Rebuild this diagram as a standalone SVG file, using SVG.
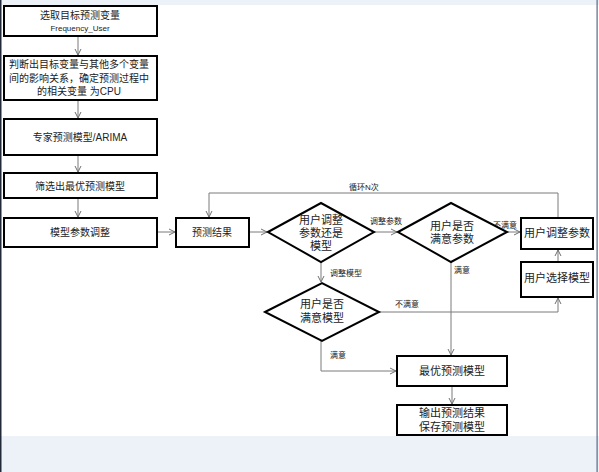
<svg xmlns="http://www.w3.org/2000/svg" width="599" height="472" viewBox="0 0 599 472">
<defs>
<marker id="arr" markerWidth="8" markerHeight="8" refX="7" refY="4" orient="auto" markerUnits="userSpaceOnUse">
<path d="M1,1 L7,4 L1,7" fill="none" stroke="#6f6f6f" stroke-width="1"/>
</marker>
<style>
.box{fill:#fff;stroke:#000;stroke-width:2}
.dia{fill:#fff;stroke:#000;stroke-width:2}
.t{font-family:"Liberation Sans","Noto Sans CJK SC",sans-serif;font-size:10px;fill:#222;text-anchor:middle;dominant-baseline:central}
.tl{font-size:11px}
.s{font-family:"Liberation Sans","Noto Sans CJK SC",sans-serif;font-size:8px;fill:#222;dominant-baseline:central}
.c{fill:none;stroke:#7a7a7a;stroke-width:1}
</style>
</defs>
<rect x="0" y="0" width="599" height="472" fill="#fff"/>
<rect x="0" y="0" width="599" height="5" fill="#edf2f9"/>
<rect x="0" y="436" width="599" height="36" fill="#edf2f9"/>
<rect x="0" y="0" width="1.5" height="472" fill="#222a3a"/>
<rect x="596.5" y="0" width="1.2" height="472" fill="#5a6a80"/>

<g id="connectors">
<line class="c" x1="78" y1="36" x2="78" y2="55" marker-end="url(#arr)"/>
<line class="c" x1="78" y1="100" x2="78" y2="118" marker-end="url(#arr)"/>
<line class="c" x1="78" y1="155" x2="78" y2="172" marker-end="url(#arr)"/>
<line class="c" x1="78" y1="198" x2="78" y2="217" marker-end="url(#arr)"/>
<line class="c" x1="157" y1="232" x2="175" y2="232" marker-end="url(#arr)"/>
<line class="c" x1="249" y1="232" x2="267" y2="232" marker-end="url(#arr)"/>
<line class="c" x1="374" y1="232" x2="397" y2="232" marker-end="url(#arr)"/>
<text class="s" x="370" y="221">调整参数</text>
<line class="c" x1="507" y1="232" x2="520" y2="232" marker-end="url(#arr)"/>
<text class="s" x="493" y="225">不满意</text>
<polyline class="c" points="558,218 558,193 209,193 209,217" marker-end="url(#arr)"/>
<text class="s" x="349" y="187">循环N次</text>
<line class="c" x1="558" y1="262" x2="558" y2="250" marker-end="url(#arr)"/>
<line class="c" x1="321" y1="262" x2="321" y2="282" marker-end="url(#arr)"/>
<text class="s" x="330" y="273">调整模型</text>
<polyline class="c" points="379,312 558,312 558,298" marker-end="url(#arr)"/>
<text class="s" x="395" y="304">不满意</text>
<line class="c" x1="451" y1="262" x2="451" y2="355" marker-end="url(#arr)"/>
<text class="s" x="454" y="270">满意</text>
<polyline class="c" points="321,341 321,371 396,371" marker-end="url(#arr)"/>
<text class="s" x="330" y="355">满意</text>
<line class="c" x1="452" y1="386" x2="452" y2="404" marker-end="url(#arr)"/>
</g>

<g id="n1"><rect class="box" x="4" y="6" width="153" height="30"/>
<text class="t" x="80" y="15">选取目标预测变量</text>
<text class="t" x="80" y="28" style="font-size:8px">Frequency_User</text></g>

<g id="n2"><rect class="box" x="4" y="56" width="153" height="44"/>
<text class="t" x="79" y="64">判断出目标变量与其他多个变量</text>
<text class="t" x="79" y="78">间的影响关系，确定预测过程中</text>
<text class="t" x="79" y="91">的相关变量 为CPU</text></g>

<g id="n3"><rect class="box" x="4" y="119" width="153" height="36"/>
<text class="t" x="80" y="137">专家预测模型/ARIMA</text></g>

<g id="n4"><rect class="box" x="4" y="173" width="153" height="25"/>
<text class="t" x="80" y="186">筛选出最优预测模型</text></g>

<g id="n5"><rect class="box" x="4" y="218" width="153" height="29"/>
<text class="t" x="80" y="232">模型参数调整</text></g>

<g id="n6"><rect class="box" x="176" y="218" width="73" height="29"/>
<text class="t" x="212" y="232">预测结果</text></g>

<g id="d1"><polygon class="dia" points="268,232 321,203 374,232 321,262"/>
<text class="t tl" x="321" y="220">用户调整</text>
<text class="t tl" x="321" y="233">参数还是</text>
<text class="t tl" x="321" y="246">模型</text></g>

<g id="d2"><polygon class="dia" points="398,232 451,203 507,232 451,262"/>
<text class="t tl" x="452" y="226">用户是否</text>
<text class="t tl" x="452" y="239">满意参数</text></g>

<g id="n7"><rect class="box" x="521" y="218" width="72" height="31"/>
<text class="t tl" x="557" y="233">用户调整参数</text></g>

<g id="n8"><rect class="box" x="521" y="262" width="72" height="35"/>
<text class="t tl" x="557" y="278">用户选择模型</text></g>

<g id="d3"><polygon class="dia" points="265,312 322,283 379,312 322,341"/>
<text class="t tl" x="322" y="304">用户是否</text>
<text class="t tl" x="322" y="318">满意模型</text></g>

<g id="n9"><rect class="box" x="397" y="356" width="110" height="30"/>
<text class="t tl" x="452" y="371">最优预测模型</text></g>

<g id="n10"><rect class="box" x="397" y="405" width="110" height="30"/>
<text class="t tl" x="452" y="413">输出预测结果</text>
<text class="t tl" x="452" y="427">保存预测模型</text></g>
</svg>
